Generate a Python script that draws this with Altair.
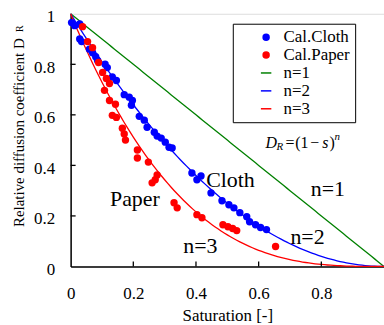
import altair as alt
import pandas as pd

# ---- data ----
cloth_s = [0.003, 0.013, 0.029, 0.029, 0.035, 0.06, 0.07, 0.08, 0.086, 0.11,
           0.117, 0.133, 0.146, 0.171, 0.187, 0.197, 0.194, 0.219, 0.235, 0.244,
           0.267, 0.276, 0.289, 0.302, 0.314, 0.324, 0.387, 0.403, 0.416, 0.448,
           0.483, 0.505, 0.521, 0.54, 0.562, 0.571, 0.59, 0.606, 0.625]
cloth_d = [0.965, 0.953, 0.96, 0.90, 0.89, 0.86, 0.846, 0.83, 0.815, 0.80,
           0.787, 0.75, 0.736, 0.68, 0.67, 0.657, 0.638, 0.594, 0.579, 0.551,
           0.531, 0.516, 0.508, 0.492, 0.472, 0.469, 0.37, 0.343, 0.358, 0.291,
           0.26, 0.244, 0.232, 0.213, 0.197, 0.177, 0.165, 0.154, 0.146]
paper_s = [0.038, 0.054, 0.07, 0.089, 0.102, 0.114, 0.124, 0.108, 0.124, 0.143,
           0.133, 0.146, 0.165, 0.171, 0.175, 0.213, 0.213, 0.248, 0.276, 0.27,
           0.26, 0.33, 0.34, 0.403, 0.419, 0.486, 0.502, 0.517, 0.53, 0.654]
paper_d = [0.949, 0.89, 0.866, 0.807, 0.768, 0.744, 0.724, 0.697, 0.657, 0.642,
           0.598, 0.59, 0.547, 0.524, 0.50, 0.461, 0.429, 0.413, 0.362, 0.343,
           0.331, 0.252, 0.232, 0.205, 0.193, 0.165, 0.157, 0.15, 0.142, 0.079]

series_names = ["Cal.Cloth", "Cal.Paper", "n=1", "n=2", "n=3"]
series_colors = ["#0000ff", "#ff0000", "#008000", "#0000ff", "#ff0000"]
model_exponents = [1, 2, 3]
x_tick_values = [0, 0.2, 0.4, 0.6, 0.8]
y_tick_values = [0, 0.2, 0.4, 0.6, 0.8, 1]
inner_ticks = [0.2, 0.4, 0.6, 0.8]

label_text = ["Paper", "Cloth", "n=1", "n=2", "n=3"]
label_x = [0.205, 0.51, 0.821, 0.756, 0.414]
label_y = [0.24, 0.315, 0.277, 0.087, 0.053]

formula_parts = ["D", "R", "=", "(1", "\u2212", "s", ")", "n"]
formula_x = [0.622, 0.657, 0.686, 0.717, 0.765, 0.803, 0.826, 0.842]
formula_y = [0.4685, 0.461, 0.4685, 0.4685, 0.4685, 0.4685, 0.4685, 0.50]
formula_kind = ["big_it", "small_it", "up", "up", "up", "big_it", "up", "small_it"]

FONT = "Liberation Serif"

points_df = pd.DataFrame({
    "s": cloth_s + paper_s,
    "D": cloth_d + paper_d,
    "series": ["Cal.Cloth"] * len(cloth_s) + ["Cal.Paper"] * len(paper_s),
})
labels_df = pd.DataFrame({"text": label_text, "s": label_x, "D": label_y})
formula_df = pd.DataFrame({"text": formula_parts, "s": formula_x, "D": formula_y,
                           "kind": formula_kind})
ticks_df = pd.DataFrame({"s": inner_ticks, "D": inner_ticks})

line_path = "M -1.75 0 L 1.75 0"
color_scale = alt.Scale(domain=series_names, range=series_colors)
shape_scale = alt.Scale(domain=series_names,
                        range=["circle", "circle", line_path, line_path, line_path])

legend = alt.Legend(
    title=None, orient="none", legendX=163, legendY=10,
    strokeColor="black", fillColor="white", padding=5,
    symbolSize=36, symbolStrokeWidth=1.5, symbolOffset=20,
    labelOffset=9, labelFont=FONT, labelFontSize=17, labelColor="black",
    rowPadding=0, labelExpr="datum.label + '\u00a0\u00a0\u00a0\u00a0\u00a0'",
    symbolFillColor={"expr": "scale('color', datum.value)"},
    symbolStrokeColor={"expr": "scale('color', datum.value)"},
)

xs = alt.Scale(domain=[0, 1], nice=False, zero=False)
ys = alt.Scale(domain=[0, 1], nice=False, zero=False)

x_axis = alt.Axis(values=x_tick_values, format=".1~f", ticks=False, tickSize=0,
                  grid=False, domainColor="black", domainWidth=1.5,
                  labelFont=FONT, labelFontSize=17, labelColor="black",
                  labelPadding=19, labelFlush=False, labelOverlap=False,
                  title="Saturation [-]", titleFont=FONT, titleFontSize=17,
                  titleFontWeight="normal", titleColor="black",
                  titleY=49, titleBaseline="middle")
y_axis = alt.Axis(values=y_tick_values, format=".1~f", ticks=False, tickSize=0,
                  grid=False, domainColor="black", domainWidth=1.5,
                  labelFont=FONT, labelFontSize=17, labelColor="black",
                  labelPadding=16, labelFlush=False, labelOverlap=False,
                  labelOffset=3,
                  title="Relative diffusion coefficient D", titleFont=FONT,
                  titleFontSize=15, titleFontWeight="normal", titleColor="black",
                  titleAngle=270, titleX=-47, titleY=119, titleAlign="center",
                  titleBaseline="alphabetic")

X = alt.X("s:Q", scale=xs, axis=x_axis)
Y = alt.Y("D:Q", scale=ys, axis=y_axis)

curves = alt.Chart(alt.sequence(0, 1.005, 0.01, as_="s")).transform_calculate(
    **{f"n={n}": f"pow(1 - datum.s, {n})" for n in model_exponents}
).transform_fold(
    [f"n={n}" for n in model_exponents], as_=["series", "D"]
).mark_line(strokeWidth=1.3).encode(
    x=X, y=Y,
    color=alt.Color("series:N", scale=color_scale, legend=legend),
)

points = alt.Chart(points_df).mark_point(filled=True, size=55, opacity=1).encode(
    x=X, y=Y,
    color=alt.Color("series:N", scale=color_scale, legend=legend),
    shape=alt.Shape("series:N", scale=shape_scale, legend=legend),
)

xticks = alt.Chart(ticks_df).mark_rule(color="black", strokeWidth=1.3).encode(
    x=X, y=alt.value(254), y2=alt.value(249),
)
yticks = alt.Chart(ticks_df).mark_rule(color="black", strokeWidth=1.3).encode(
    y=Y, x=alt.value(0), x2=alt.value(5),
)

labels = alt.Chart(labels_df).mark_text(
    font=FONT, fontSize=22, color="black", align="center", baseline="alphabetic"
).encode(x=X, y=Y, text="text:N")

def formula_layer(kind, size, style):
    return alt.Chart(formula_df).transform_filter(
        alt.datum.kind == kind
    ).mark_text(font=FONT, fontSize=size, fontStyle=style, color="black",
                align="left", baseline="alphabetic").encode(
        x=X, y=Y, text="text:N")

f_big = formula_layer("big_it", 16, "italic")
f_small = formula_layer("small_it", 11, "italic")
f_up = formula_layer("up", 16, "normal")

title_sub = alt.Chart(pd.DataFrame({"t": ["R"]})).mark_text(
    font=FONT, fontSize=10, color="black", angle=270, align="center",
    baseline="alphabetic"
).encode(x=alt.value(-48), y=alt.value(15), text="t:N")

chart = alt.layer(
    curves, points, xticks, yticks, labels, f_big, f_small, f_up, title_sub
).properties(
    width=315, height=254,
    autosize=alt.AutoSizeParams(type="none"),
    padding={"left": 71, "top": 13, "right": 0, "bottom": 58},
).configure_view(stroke="black", strokeWidth=1.3).configure(background="white")

chart.save("out.html", embed_options={"renderer": "svg", "actions": False})
